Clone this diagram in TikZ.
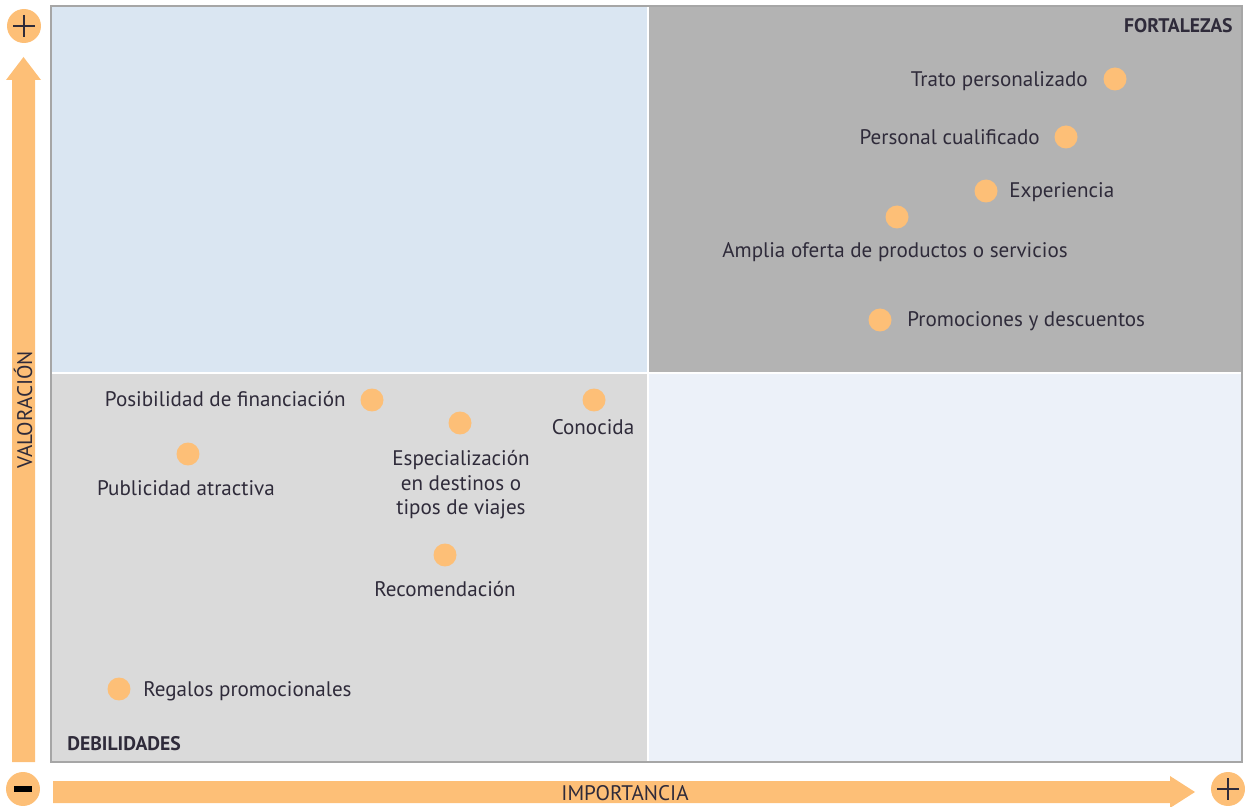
\documentclass[tikz,border=0pt]{standalone}
\usepackage{fontspec}
\setmainfont{PT Sans}
\definecolor{naranja}{HTML}{FDBF77}
\definecolor{texto}{HTML}{2F2B3A}
\definecolor{azulclaro}{HTML}{DAE6F2}
\definecolor{grisoscuro}{HTML}{B3B3B3}
\definecolor{grisclaro}{HTML}{DADADA}
\definecolor{azulpalido}{HTML}{ECF1F9}
\definecolor{marco}{HTML}{A6A6A6}
\tikzset{
  punto/.style={circle,fill=naranja,inner sep=0pt,minimum size=0.46cm},
  signo/.style={circle,fill=naranja,inner sep=0pt,minimum size=0.68cm},
  etiqueta/.style={text=texto,font=\fontsize{12}{14.2}\selectfont,inner sep=0pt},
  cuadrante/.style={text=texto,font=\fontsize{11.2}{13}\selectfont\bfseries,inner sep=0pt},
}
\def\punto#1#2#3{
  \node[punto] (#1) at (#2,#3) {};
}

\begin{document}
\begin{tikzpicture}[x=0.02cm,y=-0.02cm]
    \useasboundingbox (0,0) rectangle (1245,807);
    \fill[azulclaro] (51,6) rectangle (648,373);
    \fill[grisoscuro] (648,6) rectangle (1242,373);
    \fill[grisclaro] (51,373) rectangle (648,762);
    \fill[azulpalido] (648,373) rectangle (1242,762);
    \draw[white,line width=1.2pt] (648,6) -- (648,762);
    \draw[white,line width=1.2pt] (51,373) -- (1242,373);
    \draw[marco,line width=1.1pt] (51,6) rectangle (1242,762);
    \fill[naranja] (12,762) -- (12,80) -- (6,80) -- (23.5,57) -- (41,80) -- (35,80) -- (35,762) -- cycle;
    \fill[naranja] (53,781) -- (1170,781) -- (1170,776) -- (1195,792) -- (1170,808) -- (1170,803) -- (53,803) -- cycle;
    \node[signo] (mas) at (24,26) {};
    \node[signo] (menos) at (23,789) {};
    \node[signo] (masx) at (1228,789) {};
    \draw[texto,line width=1.6pt] (mas.center) ++(-11,0) -- ++(22,0);
    \draw[texto,line width=1.6pt] (mas.center) ++(0,-11) -- ++(0,22);
    \draw[texto,line width=1.6pt] (masx.center) ++(-11,0) -- ++(22,0);
    \draw[texto,line width=1.6pt] (masx.center) ++(0,-11) -- ++(0,22);
    \draw[black,line width=3pt] (menos.center) ++(-9,0) -- ++(18,0);
    \node[etiqueta,rotate=90,anchor=base] (valoracion) at (32,410) {VALORACIÓN};
    \node[etiqueta,anchor=base] (importancia) at (625,800) {IMPORTANCIA};
    \node[cuadrante,anchor=base east] (fortalezas) at (1233,33) {FORTALEZAS};
    \node[cuadrante,anchor=base west] (debilidades) at (67,750) {DEBILIDADES};
    \punto{trato}{1115}{79}
    \punto{personal}{1066}{137}
    \punto{experiencia}{986}{191}
    \punto{oferta}{897}{217}
    \punto{promociones}{880}{320}
    \punto{financiacion}{372}{400}
    \punto{especializacion}{460}{423}
    \punto{conocida}{594}{400}
    \punto{publicidad}{188}{454}
    \punto{recomendacion}{445}{555}
    \punto{regalos}{119}{689}
    \node[etiqueta,anchor=base east] (ltrato) at (1088,87) {Trato personalizado};
    \node[etiqueta,anchor=base east] (lpersonal) at (1040,145) {Personal cualificado};
    \node[etiqueta,anchor=base west] (lexperiencia) at (1009,198) {Experiencia};
    \node[etiqueta,anchor=base] (loferta) at (895,258) {Amplia oferta de productos o servicios};
    \node[etiqueta,anchor=base west] (lpromociones) at (907,327) {Promociones y descuentos};
    \node[etiqueta,anchor=base east] (lfinanciacion) at (346,407) {Posibilidad de financiación};
    \node[etiqueta,anchor=base,align=center] (lespecializacion) at (461,515) {Especialización\\en destinos o\\tipos de viajes};
    \node[etiqueta,anchor=base] (lconocida) at (593,435) {Conocida};
    \node[etiqueta,anchor=base] (lpublicidad) at (186,496) {Publicidad atractiva};
    \node[etiqueta,anchor=base] (lrecomendacion) at (445,597) {Recomendación};
    \node[etiqueta,anchor=base west] (lregalos) at (143,696) {Regalos promocionales};
  \end{tikzpicture}
\end{document}
